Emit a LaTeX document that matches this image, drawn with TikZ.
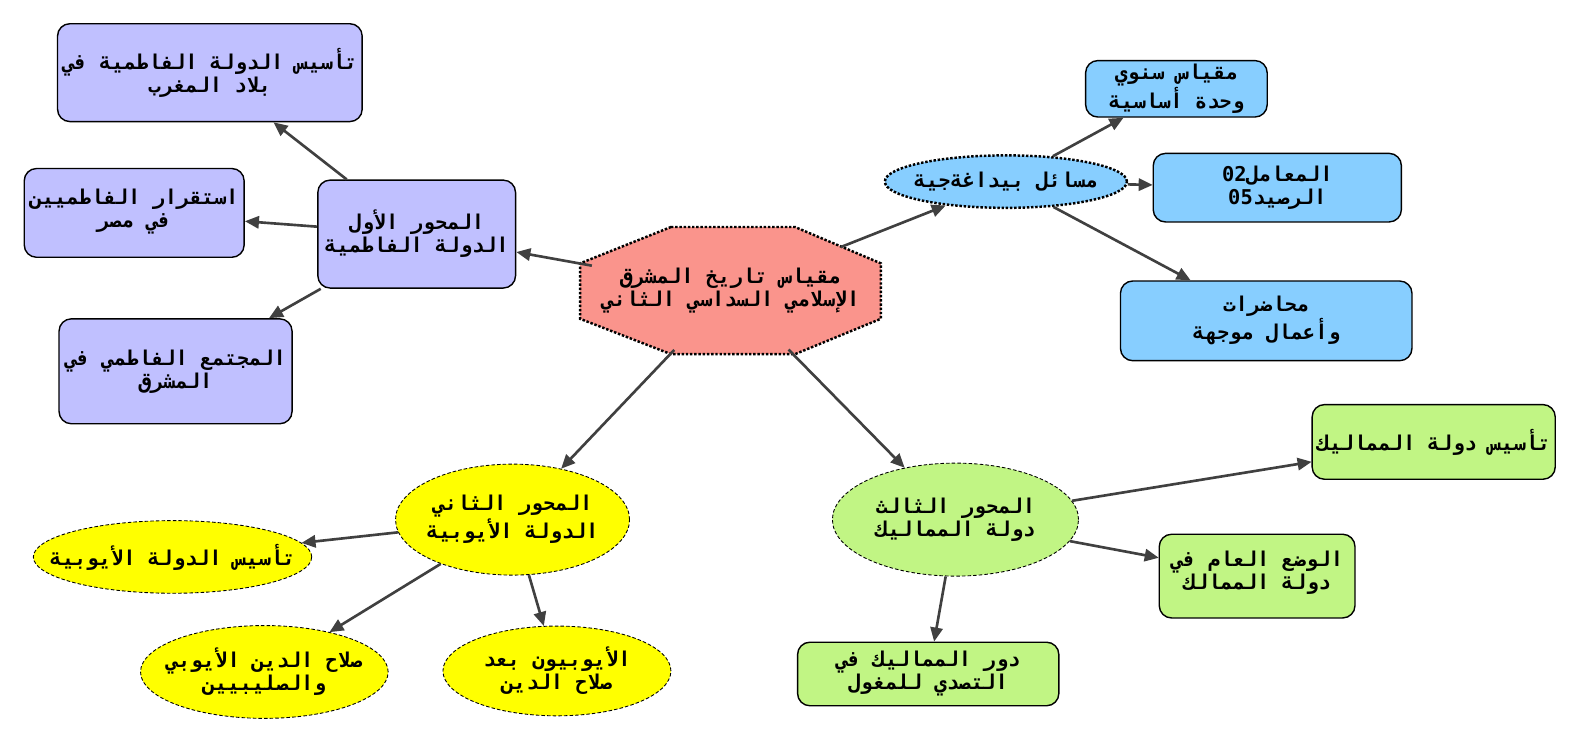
\documentclass[tikz,border=0pt]{standalone}
\usepackage{fontspec}
\newfontfamily\arabicfont[Script=Arabic]{DejaVu Sans Mono}
\usetikzlibrary{shapes.geometric,arrows.meta}

\definecolor{fatimidcol}{RGB}{192,192,255}
\definecolor{pedacol}{RGB}{135,206,255}
\definecolor{ayyubidcol}{RGB}{255,255,0}
\definecolor{mamlukcol}{RGB}{193,245,132}
\definecolor{rootcol}{RGB}{250,148,140}
\definecolor{linkcol}{RGB}{64,64,64}

\newcommand{\artext}[1]{{\TeXXeTstate=1 \arabicfont\bfseries\beginR #1\endR}}

\begin{document}
\begin{tikzpicture}[x=0.02cm,y=-0.02cm,scale=1.0089,
    every node/.style={font=\fontsize{11.5}{13}\selectfont, align=center, inner sep=0pt, transform shape},
    box/.style={draw, rounded corners=7pt, line width=0.8pt},
    oval/.style={ellipse, draw, line width=0.5pt, dash pattern=on 2pt off 1.2pt, inner xsep=-4pt},
    link/.style={draw=linkcol, line width=1.5pt, -{Triangle[length=8pt,width=7pt]}}]

    % Frame of the picture
    \useasboundingbox (0,0) rectangle (1568,737.4);

    % Root (octagon)
    \draw[fill=rootcol, line width=1.4pt, densely dotted]
        (665,225) -- (788,225) -- (873,261) -- (873,316) -- (788,351)
        -- (665,351) -- (575,316) -- (575,261) -- cycle;
    \node[ellipse, inner xsep=-13pt, minimum width=5.96cm, minimum height=2.52cm] (root) at (724,288)
          {\artext{مقياس تاريخ المشرق}\\\artext{الإسلامي السداسي الثاني}};

    % First axis: Fatimids
    \node[box, fill=fatimidcol, minimum width=3.92cm, minimum height=2.14cm] (fatimid) at (413,232)
          {\artext{المحور الأول}\\\artext{الدولة الفاطمية}};
    \node[box, fill=fatimidcol, minimum width=6.04cm, minimum height=1.94cm] (fatMaghreb) at (208,72)
          {\artext{تأسيس الدولة الفاطمية في}\\\artext{بلاد المغرب}};
    \node[box, fill=fatimidcol, minimum width=4.36cm, minimum height=1.76cm] (fatEgypt) at (133,211)
          {\artext{استقرار الفاطميين}\\\artext{في مصر}\\[-8pt]\mbox{}};
    \node[box, fill=fatimidcol, minimum width=4.62cm, minimum height=2.08cm] (fatSociety) at (174,368)
          {\artext{المجتمع الفاطمي في}\\\artext{المشرق}};

    % Pedagogical matters
    \node[ellipse, draw, fill=pedacol, line width=1.4pt, densely dotted, inner xsep=-7pt,
          minimum width=4.8cm, minimum height=1.04cm] (peda) at (997,180)
          {\artext{مسائل بيداغةجية}};
    \node[box, fill=pedacol, minimum width=3.6cm, minimum height=1.12cm] (unit) at (1166,88)
          {\artext{مقياس سنوي}\\\artext{وحدة أساسية}};
    \node[box, fill=pedacol, minimum width=4.92cm, minimum height=1.36cm] (coef) at (1266,186)
          {\artext{المعامل\beginL 02\endL}\\\artext{الرصيد\beginL 05\endL}};
    \node[box, fill=pedacol, minimum width=5.78cm, minimum height=1.58cm] (lectures) at (1255,318)
          {\artext{محاضرات}\\\artext{وأعمال موجهة}};

    % Second axis: Ayyubids
    \node[oval, fill=ayyubidcol, minimum width=4.64cm, minimum height=2.2cm] (ayyubid) at (508,515)
          {\artext{المحور الثاني}\\\artext{الدولة الأيوبية}};
    \node[oval, fill=ayyubidcol, inner xsep=-14pt, minimum width=5.52cm, minimum height=1.44cm] (ayyFound) at (171,552)
          {\artext{تأسيس الدولة الأيوبية}};
    \node[oval, fill=ayyubidcol, inner xsep=-6pt, minimum width=4.88cm, minimum height=1.84cm] (saladin) at (262,666)
          {\artext{صلاح الدين الأيوبي}\\\artext{والصليبيين}};
    \node[oval, fill=ayyubidcol, minimum width=4.52cm, minimum height=1.78cm] (ayyAfter) at (552,665)
          {\artext{الأيوبيون بعد}\\\artext{صلاح الدين}};

    % Third axis: Mamluks
    \node[oval, fill=mamlukcol, minimum width=4.88cm, minimum height=2.24cm] (mamluk) at (947,515)
          {\artext{المحور الثالث}\\\artext{دولة المماليك}};
    \node[box, fill=mamlukcol, minimum width=4.82cm, minimum height=1.48cm] (mamFound) at (1421,438)
          {\artext{تأسيس دولة المماليك}};
    \node[box, fill=mamlukcol, minimum width=3.88cm, minimum height=1.66cm] (mamState) at (1246,571)
          {\artext{الوضع العام في}\\\artext{دولة الممالك}\\[-6pt]\mbox{}};
    \node[box, fill=mamlukcol, minimum width=5.18cm, minimum height=1.26cm] (mamMongol) at (920,668)
          {\artext{دور المماليك في}\\\artext{التصدي للمغول}};

    % Links
    \draw[link] (root) -- (fatimid);
    \draw[link] (fatimid) -- (fatMaghreb);
    \draw[link] (fatimid) -- (fatEgypt);
    \draw[link] (fatimid) -- (fatSociety);
    \draw[link] (root) -- (peda);
    \draw[link] (peda) -- (unit);
    \draw[link] (peda) -- (coef);
    \draw[link] (peda) -- (lectures);
    \draw[link] (root) -- (ayyubid);
    \draw[link] (ayyubid) -- (ayyFound);
    \draw[link] (ayyubid) -- (saladin);
    \draw[link] (ayyubid) -- (ayyAfter);
    \draw[link] (root) -- (mamluk);
    \draw[link] (mamluk) -- (mamFound);
    \draw[link] (mamluk) -- (mamState);
    \draw[link] (mamluk) -- (mamMongol);

\end{tikzpicture}
\end{document}
